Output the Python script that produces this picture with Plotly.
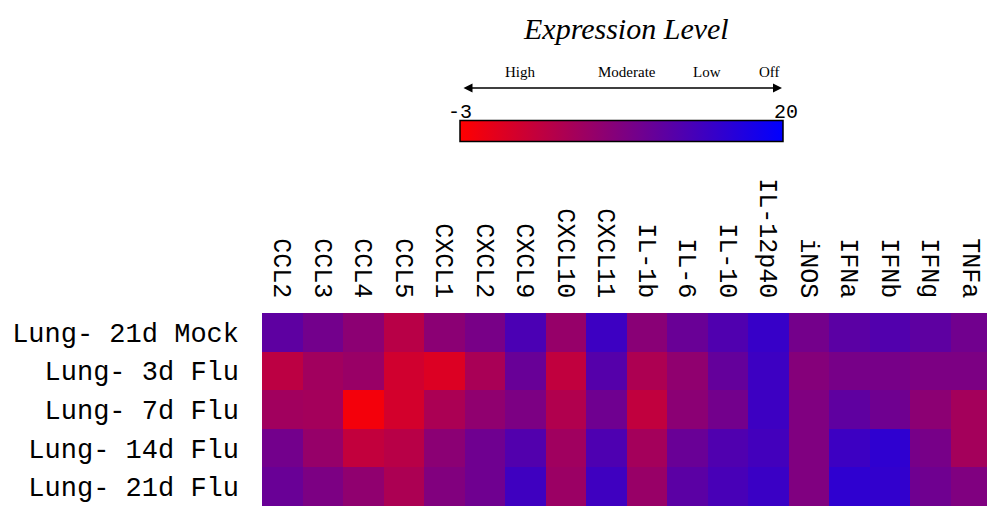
import plotly.graph_objects as go

genes = ["CCL2", "CCL3", "CCL4", "CCL5", "CXCL1", "CXCL2", "CXCL9", "CXCL10", "CXCL11",
         "IL-1b", "IL-6", "IL-10", "IL-12p40", "iNOS", "IFNa", "IFNb", "IFNg", "TNFa"]
samples = ["Lung- 21d Mock", "Lung- 3d Flu", "Lung- 7d Flu", "Lung- 14d Flu", "Lung- 21d Flu"]

mock_21d = [11.5, 9.6, 7.4, 3.4, 7.5, 9.2, 13.2, 6.5, 14.5, 7.6, 10.5, 12.8, 15.0, 9.5, 11.8, 12.6, 11.5, 9.8]
flu_3d   = [3.0, 5.5, 6.2, 1.2, 0.2, 4.8, 10.6, 2.6, 12.3, 4.4, 7.0, 11.0, 14.5, 8.0, 9.3, 9.3, 8.8, 8.8]
flu_7d   = [5.5, 5.2, -2.0, 1.0, 4.6, 7.0, 8.8, 4.0, 10.0, 2.6, 7.5, 9.6, 14.5, 8.5, 11.4, 10.0, 7.4, 5.2]
flu_14d  = [9.6, 6.5, 2.5, 3.4, 7.5, 10.0, 12.6, 5.6, 13.0, 5.2, 10.5, 12.8, 14.0, 8.5, 14.5, 15.8, 9.3, 5.2]
flu_21d  = [10.5, 8.8, 7.0, 4.5, 8.4, 10.0, 14.3, 6.0, 14.3, 6.3, 11.8, 13.5, 14.8, 8.5, 15.8, 15.5, 10.0, 8.5]

z = [mock_21d, flu_3d, flu_7d, flu_14d, flu_21d]
zmin, zmax = -3, 20
level_labels = ["High", "Moderate", "Low", "Off"]

W, H = 987, 506
L, T = 262, 313
PW, PH = W - L, H - T


def px(p):
    return (p - L) / PW


def py(p):
    return (H - p) / PH


fig = go.Figure(go.Heatmap(
    z=z,
    x=list(range(len(genes))),
    y=list(range(len(samples))),
    zmin=zmin, zmax=zmax,
    colorscale=[[0, "rgb(255,0,0)"], [1, "rgb(0,0,255)"]],
    xgap=0, ygap=0,
    colorbar=dict(
        orientation="h",
        x=px(460), xanchor="left",
        y=py(143), yanchor="bottom",
        len=(783 - 460) / PW, lenmode="fraction",
        thickness=21, thicknessmode="pixels",
        xpad=0, ypad=0,
        outlinewidth=1.5, outlinecolor="black",
        showticklabels=False, ticks="",
    ),
))

annotations = [
    dict(text="Expression Level", x=px(626), y=py(28), xref="paper", yref="paper",
         showarrow=False, font=dict(family="Liberation Serif", size=30, color="black",
                                    style="italic"),
         xanchor="center", yanchor="middle"),
    dict(text=str(zmin), x=px(460), y=py(113), xref="paper", yref="paper",
         showarrow=False, font=dict(family="Liberation Mono", size=20, color="black"),
         xanchor="center", yanchor="middle"),
    dict(text=str(zmax), x=px(786), y=py(113), xref="paper", yref="paper",
         showarrow=False, font=dict(family="Liberation Mono", size=20, color="black"),
         xanchor="center", yanchor="middle"),
    dict(text="", x=px(782), y=py(88), xref="paper", yref="paper",
         ax=-(782 - 462), ay=0, axref="pixel", ayref="pixel",
         showarrow=True, arrowside="end+start", arrowhead=2, arrowsize=1.2,
         arrowwidth=1.5, arrowcolor="black"),
]
for lab, xc in zip(level_labels, [520, 627, 707, 769]):
    annotations.append(dict(text=lab, x=px(xc), y=py(72), xref="paper", yref="paper",
                            showarrow=False,
                            font=dict(family="Liberation Serif", size=15, color="black"),
                            xanchor="center", yanchor="middle"))

fig.update_layout(
    width=W, height=H,
    margin=dict(l=L, r=0, t=T, b=0, pad=0),
    paper_bgcolor="white", plot_bgcolor="white",
    xaxis=dict(
        side="top", tickmode="array", tickvals=list(range(len(genes))), ticktext=genes,
        tickangle=90, range=[-0.5, -0.5 + PW / 40.5], showgrid=False, zeroline=False,
        ticks="", ticklabelstandoff=10,
        tickfont=dict(family="Liberation Mono", size=25, color="black"),
    ),
    yaxis=dict(
        tickmode="array", tickvals=list(range(len(samples))), ticktext=samples,
        range=[len(samples) - 0.5, -0.5], showgrid=False, zeroline=False,
        ticks="", ticklabelstandoff=22,
        tickfont=dict(family="Liberation Mono", size=27, color="black"),
    ),
    annotations=annotations,
)

fig.write_html("out.html")
